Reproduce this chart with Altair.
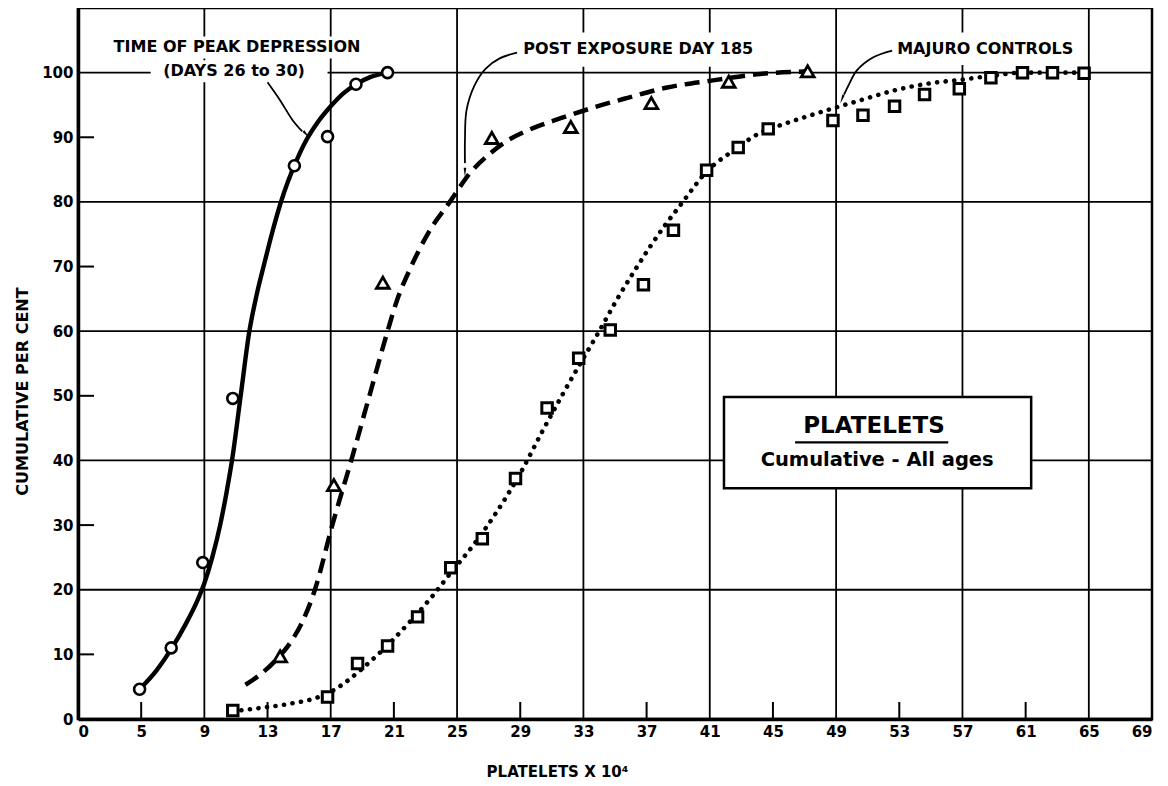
import altair as alt
import pandas as pd

# ---------------- data ----------------
# observed points
peak_x = [4.9, 6.9, 8.9, 10.8, 14.7, 16.8, 18.6, 20.6]
peak_y = [4.6, 11.0, 24.2, 49.6, 85.6, 90.1, 98.2, 100.0]

post_x = [13.8, 17.2, 20.3, 27.2, 32.2, 37.3, 42.2, 47.2]
post_y = [9.7, 36.2, 67.5, 89.9, 91.6, 95.3, 98.6, 100.2]

maj_x = [10.8, 16.8, 18.7, 20.6, 22.5, 24.6, 26.6, 28.7, 30.7, 32.7, 34.7, 36.8, 38.7,
         40.8, 42.8, 44.7, 48.8, 50.7, 52.7, 54.6, 56.8, 58.8, 60.8, 62.7, 64.7]
maj_y = [1.3, 3.4, 8.6, 11.3, 15.8, 23.4, 27.9, 37.2, 48.1, 55.8, 60.2, 67.2, 75.6,
         84.9, 88.4, 91.3, 92.6, 93.4, 94.8, 96.6, 97.5, 99.2, 100.0, 100.0, 99.9]

# fitted (hand drawn) curves
peak_curve_x = [4.9, 6.0, 6.9, 7.8, 8.5, 9.0, 9.5, 10.0, 10.4, 10.75, 11.3, 11.85, 12.3,
                12.8, 13.3, 13.8, 14.3, 14.8, 15.4, 16.2, 17.0, 17.8, 18.6, 19.5, 20.6]
peak_curve_y = [4.6, 7.6, 10.8, 14.6, 18.0, 21.0, 25.0, 30.0, 35.0, 40.0, 50.0, 60.0, 65.5,
                70.5, 75.3, 79.6, 83.2, 86.2, 89.3, 92.4, 94.8, 96.8, 98.2, 99.3, 100.0]

post_curve_x = [11.6, 12.6, 13.6, 14.5, 15.2, 16.0, 17.1, 18.3, 19.45, 20.6, 21.2, 22.0, 23.2,
                24.6, 25.8, 27.0, 28.2, 29.5, 30.8, 32.0, 33.5, 35.8, 38.3, 41.2, 44.2, 47.2]
post_curve_y = [5.3, 7.0, 9.3, 12.0, 15.0, 20.0, 30.0, 40.0, 50.0, 60.0, 64.8, 69.5, 75.3,
                80.2, 84.4, 87.3, 89.5, 91.1, 92.3, 93.3, 94.5, 96.1, 97.7, 98.8, 99.8, 100.2]

maj_curve_x = [10.8, 12.5, 14.5, 16.0, 17.0, 18.0, 19.0, 20.0, 21.0, 22.0, 23.3, 24.6, 26.0,
               27.5, 29.0, 30.4, 31.7, 32.8, 34.0, 35.1, 36.2, 37.2, 38.2, 39.2, 40.0, 40.8,
               41.5, 42.3, 43.2, 44.2, 45.5, 47.0, 48.7, 50.5, 52.6, 54.8, 56.9, 58.8, 60.8,
               62.7, 64.7]
maj_curve_y = [1.2, 1.7, 2.4, 3.2, 4.2, 5.8, 7.8, 10.0, 12.4, 15.0, 18.6, 22.6, 26.8,
               32.0, 38.0, 44.5, 50.3, 55.0, 60.0, 64.8, 69.2, 73.0, 76.5, 79.7, 82.3, 84.7,
               86.2, 87.6, 89.2, 90.7, 91.9, 93.1, 94.4, 95.7, 97.2, 98.3, 98.9, 99.5, 100.0,
               100.0, 100.0]

# axis values
x_tick_values = [1, 5, 9, 13, 17, 21, 25, 29, 33, 37, 41, 45, 49, 53, 57, 61, 65, 69]
y_tick_values = [0, 10, 20, 30, 40, 50, 60, 70, 80, 90, 100]
x_grid_full = [9, 17, 25, 33, 41, 49, 57, 65]
x_grid_short = [5, 13, 21, 29, 37, 45, 53, 61]
y_grid_full = [20, 40, 60, 80, 100]
y_grid_short = [10, 30, 50, 70, 90]

# annotation text
label_texts = ["TIME OF PEAK DEPRESSION", "(DAYS 26 to 30)", "POST EXPOSURE DAY 185", "MAJURO CONTROLS"]
label_x = [11.07, 10.88, 36.47, 58.44]
label_y = [103.9, 100.3, 103.6, 103.7]

bg_x = [2.9, 5.6, 28.7, 52.3]
bg_x2 = [19.2, 16.8, 44.3, 64.6]
bg_y = [105.6, 101.9, 106.2, 106.2]
bg_y2 = [102.2, 98.5, 100.9, 101.2]

arrow_id = [1, 1, 1, 1, 2, 2, 2, 2, 2, 2, 2, 3, 3, 3, 3, 3]
arrow_x = [13.0, 13.8, 14.6, 15.2, 28.8, 27.7, 26.8, 26.1, 25.6, 25.5, 25.5, 52.55, 51.3, 50.3, 49.8, 49.5]
arrow_y = [98.5, 95.7, 92.6, 90.9, 103.1, 102.2, 100.6, 98.0, 94.2, 89.5, 86.0, 103.4, 102.3, 100.3, 98.1, 96.6]
head_x = [15.4, 25.5, 49.4]
head_y = [90.6, 84.8, 96.1]
head_angle = [139, 180, 201]

box_x, box_x2, box_y, box_y2 = [41.9], [61.35], [49.8], [35.7]
box_title = ["PLATELETS", "Cumulative - All ages"]
box_title_x = [51.4, 51.6]
box_title_y = [45.3, 40.0]
underline_x, underline_x2, underline_y = [46.4], [56.1], [42.8]

# ---------------- chart ----------------
FONT = "DejaVu Sans"
xs = alt.Scale(domain=[1, 69], nice=False, zero=False)
ys = alt.Scale(domain=[0, 110], nice=False, zero=False)

x_axis = alt.Axis(
    values=x_tick_values,
    labelExpr="datum.value == 1 ? '0' : datum.label",
    grid=False, ticks=False, tickSize=0,
    domainColor="black", domainWidth=3.5,
    labelFont=FONT, labelFontWeight="bold", labelFontSize=15, labelColor="black",
    labelPadding=5,
    title="PLATELETS X 10\u2074", titleFont=FONT, titleFontWeight="bold", titleFontSize=15,
    titleColor="black", titleX=479, titleY=52, titleAlign="center", titleBaseline="middle",
)
y_axis = alt.Axis(
    values=y_tick_values,
    grid=False, ticks=False, tickSize=0,
    domainColor="black", domainWidth=3.5,
    labelFont=FONT, labelFontWeight="bold", labelFontSize=15, labelColor="black",
    labelPadding=5,
    title="CUMULATIVE PER CENT", titleFont=FONT, titleFontWeight="bold", titleFontSize=16,
    titleColor="black", titleX=-56, titleY=383, titleAngle=270, titleAlign="center",
    titleBaseline="middle",
)


def X(field="x"):
    return alt.X(f"{field}:Q", scale=xs, axis=x_axis)


def Y(field="y"):
    return alt.Y(f"{field}:Q", scale=ys, axis=y_axis)


vgrid = alt.Chart(pd.DataFrame({"x": x_grid_full})).mark_rule(color="black", strokeWidth=1.8).encode(
    x=X()
)
hgrid = alt.Chart(pd.DataFrame({"y": y_grid_full})).mark_rule(color="black", strokeWidth=1.8).encode(
    y=Y()
)
vshort = alt.Chart(pd.DataFrame({"x": x_grid_short})).mark_rule(color="black", strokeWidth=2).encode(
    x=X(), y=alt.value(711), y2=alt.value(694)
)
hshort = alt.Chart(pd.DataFrame({"y": y_grid_short})).mark_rule(color="black", strokeWidth=2).encode(
    y=Y(), x=alt.value(0), x2=alt.value(16)
)

bg = alt.Chart(pd.DataFrame({"x": bg_x, "x2": bg_x2, "y": bg_y, "y2": bg_y2})).mark_rect(
    fill="white", strokeWidth=0
).encode(x=X(), x2="x2:Q", y=Y(), y2="y2:Q")

box = alt.Chart(pd.DataFrame({"x": box_x, "x2": box_x2, "y": box_y, "y2": box_y2})).mark_rect(
    fill="white", stroke="black", strokeWidth=2.5
).encode(x=X(), x2="x2:Q", y=Y(), y2="y2:Q")


def curve(xv, yv, **mk):
    df = pd.DataFrame({"x": xv, "y": yv, "o": list(range(len(xv)))})
    return alt.Chart(df).mark_line(color="black", interpolate="monotone", **mk).encode(
        x=X(), y=Y(), order="o:Q"
    )


peak_line = curve(peak_curve_x, peak_curve_y, strokeWidth=4.4)
post_line = curve(post_curve_x, post_curve_y, strokeWidth=4.5, strokeDash=[15, 8])
maj_line = curve(maj_curve_x, maj_curve_y, strokeWidth=4.6, strokeDash=[0.1, 8.5], strokeCap="round")


def pts(xv, yv, shape, size, sw):
    df = pd.DataFrame({"x": xv, "y": yv})
    return alt.Chart(df).mark_point(
        shape=shape, size=size, filled=False, fill="white", fillOpacity=1,
        stroke="black", strokeWidth=sw, opacity=1
    ).encode(x=X(), y=Y())


peak_pts = pts(peak_x, peak_y, "circle", 120, 2.6)
post_pts = pts(post_x, post_y, "triangle-up", 165, 2.8)
maj_pts = pts(maj_x, maj_y, "square", 110, 3.0)

labels = alt.Chart(pd.DataFrame({"x": label_x, "y": label_y, "t": label_texts})).mark_text(
    font=FONT, fontWeight="bold", fontSize=16, color="black", align="center", baseline="middle"
).encode(x=X(), y=Y(), text="t:N")

arrows = alt.Chart(pd.DataFrame({"x": arrow_x, "y": arrow_y, "id": arrow_id,
                                 "o": list(range(len(arrow_x)))})).mark_line(
    color="black", strokeWidth=1.8, interpolate="catmull-rom"
).encode(x=X(), y=Y(), detail="id:N", order="o:Q")

heads = alt.Chart(pd.DataFrame({"x": head_x, "y": head_y, "a": head_angle})).mark_point(
    shape="wedge", size=110, filled=True, color="black", opacity=1
).encode(x=X(), y=Y(), angle=alt.Angle("a:Q", scale=None))

box_texts = alt.Chart(pd.DataFrame({"x": box_title_x, "y": box_title_y, "t": box_title,
                                    "s": [23, 19.5]})).mark_text(
    font=FONT, fontWeight="bold", color="black", align="center", baseline="middle"
).encode(x=X(), y=Y(), text="t:N", size=alt.Size("s:Q", scale=None, legend=None))

underline = alt.Chart(pd.DataFrame({"x": underline_x, "x2": underline_x2, "y": underline_y})).mark_rule(
    color="black", strokeWidth=2.2
).encode(x=X(), x2="x2:Q", y=Y())

chart = alt.layer(
    vgrid, hgrid, vshort, hshort, bg, box,
    peak_line, post_line, maj_line,
    peak_pts, post_pts, maj_pts,
    labels, arrows, heads, box_texts, underline,
).properties(
    width=1074, height=711,
    autosize=alt.AutoSizeParams(type="none"),
    padding={"left": 70, "top": 0, "right": 6, "bottom": 60},
    background="white",
).configure_view(
    stroke="black", strokeWidth=2.5
)

chart.save("out.html", embed_options={"renderer": "svg", "actions": False})
